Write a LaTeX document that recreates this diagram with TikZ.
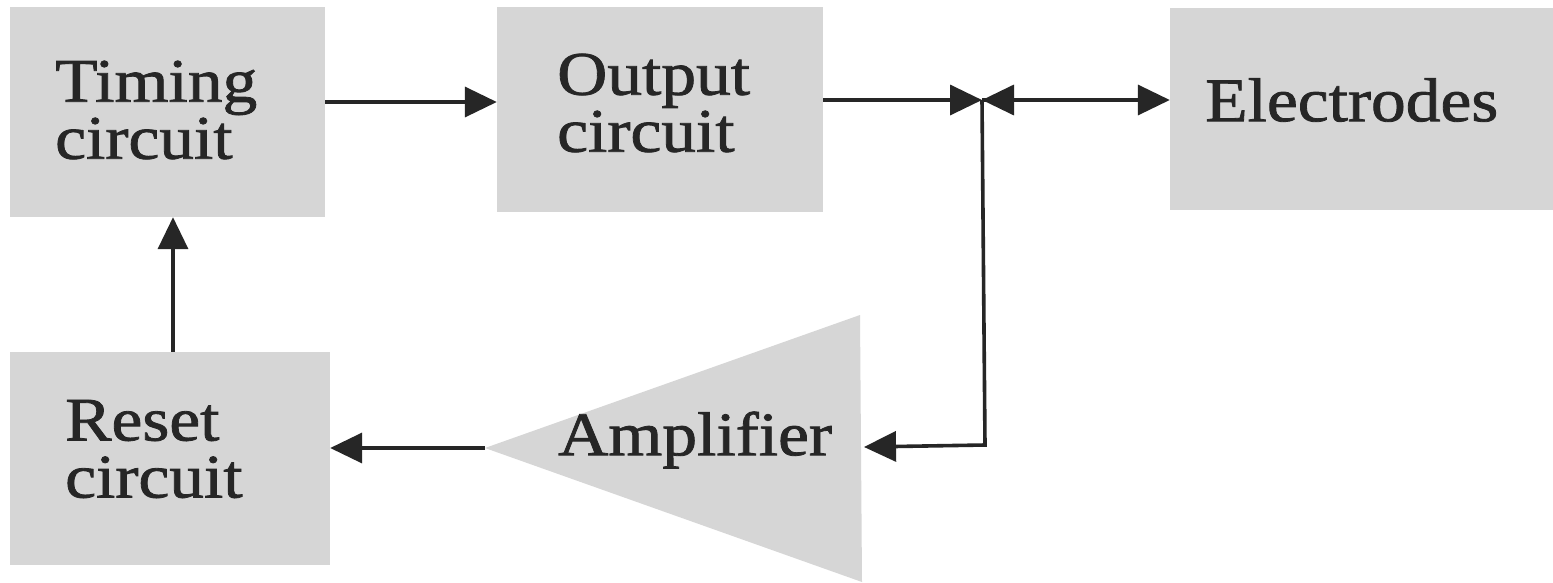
\documentclass[tikz,border=0pt]{standalone}
\usepackage{fontspec}
\setmainfont{Liberation Serif}[FakeStretch=1.12,FakeBold=1.3]
\usetikzlibrary{arrows.meta}
\begin{document}
\begin{tikzpicture}[x=1pt,y=-1pt,
  blk/.style={fill=black!16,draw=none,inner sep=0pt},
  txt/.style={align=left,inner sep=0pt,anchor=west,text=black!85,
    font=\fontsize{62}{57}\selectfont},
  arr/.style={line width=3.6pt,draw=black!85,-{Triangle[length=32pt,width=30pt]}}]
\useasboundingbox (0,0) rectangle (1553,582);
\fill[white] (0,0) rectangle (1553,582);
\node[blk,minimum width=315pt,minimum height=210pt] (timing) at (167.5,112) {};
\node[blk,minimum width=326pt,minimum height=205pt] (output) at (660,109.5) {};
\node[blk,minimum width=383pt,minimum height=202pt] (electrodes) at (1361.5,109) {};
\node[blk,minimum width=320pt,minimum height=213pt] (reset) at (170,458.5) {};
\fill[black!16] (485,448) -- (860,315) -- (862,582) -- cycle;
\coordinate (ampapex) at (485,448);
\coordinate (ampright) at (864,447);
\node[txt] (timingtxt) at (55,110) {Timing\\circuit};
\node[txt] (outputtxt) at (557,103) {Output\\circuit};
\node[txt] (electrodestxt) at (1205,100) {Electrodes};
\node[txt] (resettxt) at (65,449) {Reset\\circuit};
\node[txt] (amptxt) at (558,440) {Amplifier};
\coordinate (junction) at (982,100);
\coordinate (corner) at (985,445);
\draw[arr] (timing.east |- 0,102) -- (output.west |- 0,102);
\draw[arr] (output.east |- 0,100) -- (junction);
\draw[arr] (junction) -- (electrodes.west |- 0,100);
\draw[arr] (junction -| 1014,0) -- (junction);
\draw[arr] (junction) -- (corner) -- (ampright);
\draw[arr] (ampapex) -- (reset.east |- 0,448);
\draw[arr] (reset.north -| 173,0) -- (timing.south -| 173,0);
\end{tikzpicture}
\end{document}
